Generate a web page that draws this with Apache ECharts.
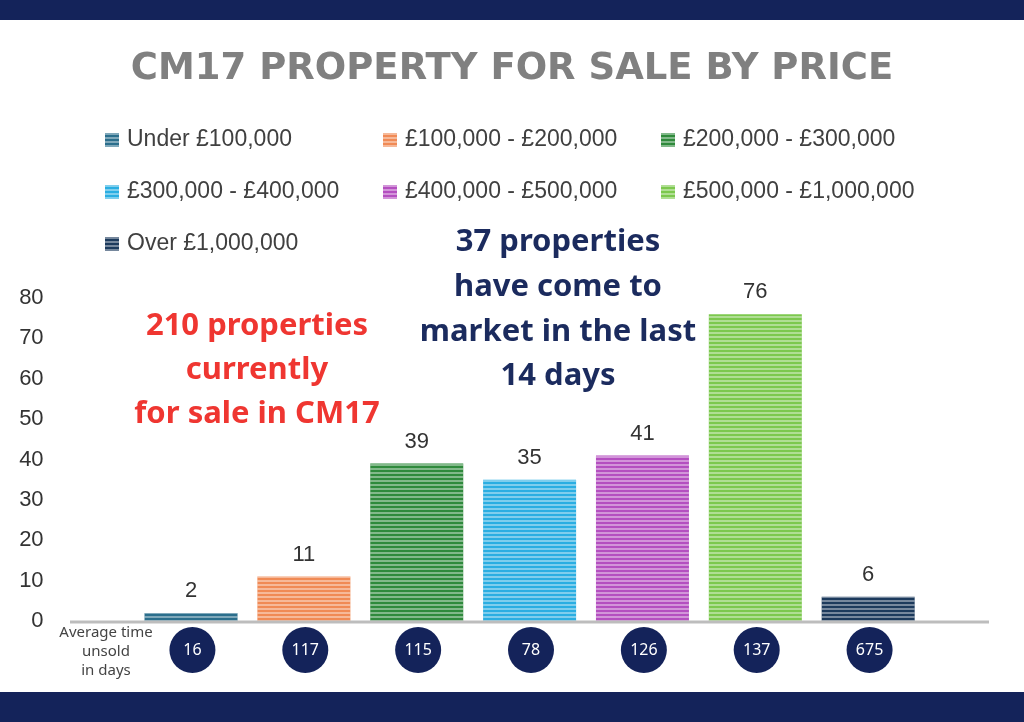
<!DOCTYPE html>
<html>
<head>
<meta charset="utf-8">
<script src="https://cdn.jsdelivr.net/npm/echarts@6/dist/echarts.min.js"></script>
<style>
html, body { margin: 0; padding: 0; background: #fff; }
#main { width: 1024px; height: 722px; }
</style>
</head>
<body>
<div id="main"></div>
<script>
// price bands and counts
var bands = ['Under £100,000', '£100,000 - £200,000', '£200,000 - £300,000',
    '£300,000 - £400,000', '£400,000 - £500,000', '£500,000 - £1,000,000', 'Over £1,000,000'];
var counts = [2, 11, 39, 35, 41, 76, 6];
var daysUnsold = [16, 117, 115, 78, 126, 137, 675];
var colors = ['#2b6e8c', '#f08a55', '#2f8a3c', '#2aaee2', '#b44fc0', '#7cc84e', '#1c3a5c'];
var yTicks = [0, 10, 20, 30, 40, 50, 60, 70, 80];

var navy = '#14235a';
var chart = echarts.init(document.getElementById('main'));

var series = [];
for (var i = 0; i < bands.length; i++) {
    var d = [];
    for (var j = 0; j < bands.length; j++) {
        d.push(j === i ? counts[i] : '-');
    }
    series.push({
        name: bands[i],
        type: 'bar',
        stack: 'all',
        barWidth: 93,
        data: d,
        itemStyle: {
            color: colors[i],
            decal: {
                symbol: 'rect',
                symbolSize: 1,
                dashArrayX: [[10, 0]],
                dashArrayY: [2, 2],
                color: 'rgba(255,255,255,0.4)',
                rotation: 0
            }
        },
        label: {
            show: true,
            position: 'top',
            distance: 11,
            color: '#333',
            fontSize: 22,
            fontFamily: 'Liberation Sans'
        }
    });
}

// circles with average days unsold
var circleData = [];
for (var k = 0; k < daysUnsold.length; k++) {
    circleData.push([k, 0, daysUnsold[k]]);
}
series.push({
    type: 'scatter',
    xAxisIndex: 1,
    yAxisIndex: 1,
    symbolSize: 46,
    data: circleData,
    itemStyle: { color: navy, opacity: 1 },
    label: {
        show: true,
        position: 'inside',
        color: '#fff',
        fontSize: 16,
        fontFamily: 'Noto Sans',
        formatter: function (p) { return p.data[2]; }
    },
    silent: true
});

var option = {
    backgroundColor: '#fff',
    animation: false,
    aria: { enabled: true, decal: { show: true } },
    title: {
        text: 'CM17 PROPERTY FOR SALE BY PRICE',
        left: 'center',
        top: 46,
        textStyle: {
            color: '#808080',
            fontSize: 37,
            fontWeight: 'bold',
            fontFamily: 'DejaVu Sans'
        }
    },
    legend: {
        data: bands,
        left: 100,
        top: 115,
        width: 860,
        itemWidth: 14,
        itemHeight: 14,
        itemGap: 12,
        icon: 'rect',
        textStyle: {
            color: '#404040',
            fontSize: 23,
            fontFamily: 'Liberation Sans',
            width: 244,
            lineHeight: 40,
            padding: [0, 0, 0, 3]
        }
    },
    grid: [
        { left: 134.6, width: 790, top: 298, bottom: 101 },
        { left: 136, width: 790, top: 625, height: 50 }
    ],
    xAxis: [
        {
            type: 'category',
            gridIndex: 0,
            data: bands,
            axisLine: { show: false },
            axisTick: { show: false },
            axisLabel: { show: false }
        },
        {
            type: 'category',
            gridIndex: 1,
            data: bands,
            show: false
        }
    ],
    yAxis: [
        {
            type: 'value',
            gridIndex: 0,
            min: yTicks[0],
            max: yTicks[yTicks.length - 1],
            interval: 10,
            splitLine: { show: false },
            axisLine: { show: false },
            axisTick: { show: false },
            axisLabel: {
                color: '#333',
                fontSize: 22,
                fontFamily: 'Liberation Sans',
                margin: 91
            }
        },
        {
            type: 'value',
            gridIndex: 1,
            min: -1,
            max: 1,
            show: false
        }
    ],
    graphic: [
        { type: 'rect', left: 0, top: 0, shape: { width: 1024, height: 20 }, style: { fill: navy } },
        { type: 'rect', left: 0, top: 692, shape: { width: 1024, height: 30 }, style: { fill: navy } },
        {
            type: 'line', z: 10,
            shape: { x1: 70, y1: 622, x2: 989, y2: 622 },
            style: { stroke: '#bdbdbd', lineWidth: 3 }
        },
        {
            type: 'text',
            style: {
                text: 'Average time\nunsold\nin days',
                x: 106, y: 623, align: 'center', verticalAlign: 'top',
                fill: '#444', fontSize: 15, lineHeight: 19, fontFamily: 'Noto Sans'
            }
        },
        {
            type: 'text',
            style: {
                text: '210 properties\ncurrently\nfor sale in CM17',
                x: 257, y: 304, align: 'center', verticalAlign: 'top',
                fill: '#ef3631', fontSize: 31, fontWeight: 'bold', lineHeight: 44,
                fontFamily: 'Noto Sans'
            }
        },
        {
            type: 'text',
            style: {
                text: '37 properties\nhave come to\nmarket in the last\n14 days',
                x: 558, y: 220, align: 'center', verticalAlign: 'top',
                fill: '#1b2b5e', fontSize: 31, fontWeight: 'bold', lineHeight: 44.7,
                fontFamily: 'Noto Sans'
            }
        }
    ],
    series: series
};

chart.setOption(option);
</script>
</body>
</html>
